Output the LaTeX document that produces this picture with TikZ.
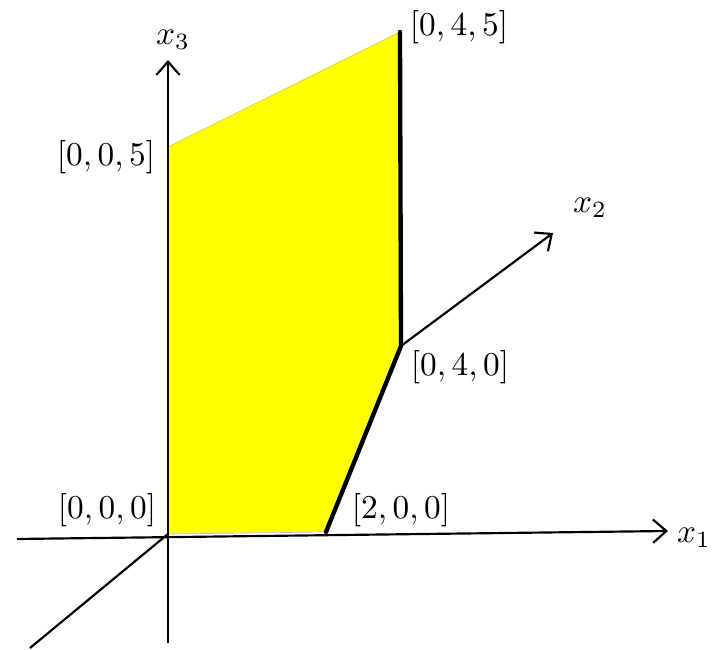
\documentclass[tikz,border=0pt]{standalone}
\usepackage{amsmath}
\usepackage{tikz}
\usetikzlibrary{arrows.meta, positioning}
\definecolor{faceyellow}{RGB}{255,255,0}

\begin{document}
\begin{tikzpicture}[
  font=\normalsize,
  >={Straight Barb[length=4pt,width=7pt]},
  x=0.3pt, y=-0.3pt,
  axis/.style={->, line width=0.65pt},
  axisline/.style={line width=0.65pt},
  face/.style={fill=faceyellow, draw=black!25, line width=0.2pt},
  rim/.style={line width=1.3pt, line cap=round},
  vlabel/.style={inner sep=1pt},
]
\path[use as bounding box] (0,0) rectangle (726,650);
\coordinate (O)  at (168,534);
\coordinate (A)  at (326,532);
\coordinate (B)  at (401,346);
\coordinate (C)  at (400,32);
\coordinate (D)  at (168,147);
\coordinate (x1tail) at (17,539);
\coordinate (x1tip)  at (668,531);
\coordinate (x2tail) at (30,648);
\coordinate (x2tip)  at (553,233);
\coordinate (x3tail) at (168,643);
\coordinate (x3tip)  at (168,60);

% feasible face
\path[face] (O) -- (A) -- (B) -- (C) -- (D) -- cycle;

% axes
\draw[axis] (x1tail) -- (x1tip);
\draw[axis] (x3tail) -- (x3tip);
\draw[axisline] (x2tail) -- (O);
\draw[axis] (B) -- (x2tip);
\node (x1lab) at (694,538) {$x_1$};
\node (x2lab) at (590,208) {$x_2$};
\node (x3lab) at (173,40)  {$x_3$};

% edges of the face
\draw[rim] (A) -- (B) -- (C);

% corner labels
\node[vlabel] (lO) at (107,510) {$[0,0,0]$};
\node[vlabel] (lA) at (401,510) {$[2,0,0]$};
\node[vlabel] (lB) at (460,367) {$[0,4,0]$};
\node[vlabel] (lC) at (459,27)  {$[0,4,5]$};
\node[vlabel] (lD) at (106,157) {$[0,0,5]$};
\end{tikzpicture}
\end{document}
